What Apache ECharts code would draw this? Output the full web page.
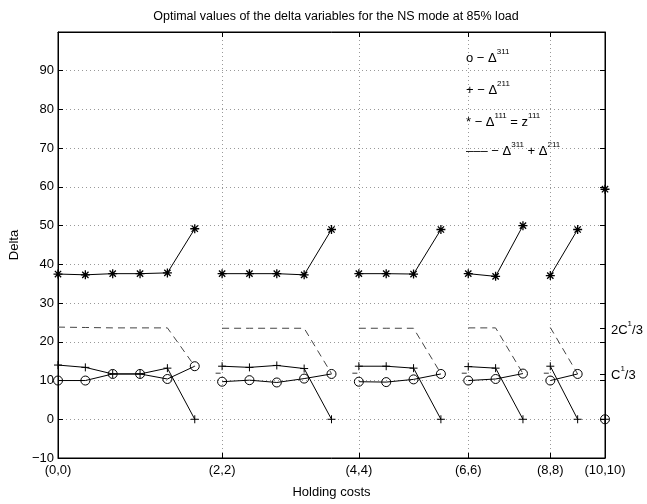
<!DOCTYPE html>
<html>
<head>
<meta charset="utf-8">
<script src="https://cdn.jsdelivr.net/npm/echarts@6/dist/echarts.min.js"></script>
<style>
  html, body { margin: 0; padding: 0; background: #fff; }
  #chart { width: 647px; height: 504px; }
</style>
</head>
<body>
<div id="chart"></div>
<script>
// holding cost pairs (h1,h2), one per point
const costs = [
  '(0,0)', '(0,2)', '(0,4)', '(0,6)', '(0,8)', '(0,10)',
  '(2,2)', '(2,4)', '(2,6)', '(2,8)', '(2,10)',
  '(4,4)', '(4,6)', '(4,8)', '(4,10)',
  '(6,6)', '(6,8)', '(6,10)',
  '(8,8)', '(8,10)',
  '(10,10)'
];
const delta311 = [10.0, 10.0, 11.7, 11.7, 10.4, 13.7, 9.7, 10.1, 9.5, 10.5, 11.7, 9.7, 9.6, 10.3, 11.7, 10.0, 10.4, 11.8, 10.0, 11.7, 0];
const delta211 = [14.0, 13.4, 11.7, 11.7, 13.2, 0, 13.7, 13.4, 13.9, 13.1, 0, 13.7, 13.7, 13.2, 0, 13.6, 13.2, 0, 13.7, 0, 0];
const delta111 = [37.5, 37.3, 37.6, 37.6, 37.8, 49.2, 37.6, 37.6, 37.6, 37.3, 49.0, 37.6, 37.6, 37.5, 49.0, 37.6, 36.9, 50.0, 37.1, 49.0, 59.4];
const deltaSum = [23.8, 23.7, 23.6, 23.6, 23.6, 13.7, 23.5, 23.5, 23.5, 23.5, 11.8, 23.5, 23.5, 23.5, 11.8, 23.6, 23.6, 11.8, 23.7, 11.7, null];
const startMarks = [null, null, null, null, null, null, 11.9, null, null, null, null, 11.9, null, null, null, 11.9, null, null, 11.9, null, null];
const rightTicks = [23.5, 11.75];
const rightLabels = ['{n|2C}{s|1}{n|/3}', '{n|C}{s|1}{n|/3}'];

const FONT = 'Liberation Sans, Arial, Helvetica, sans-serif';
const FS = 13;

// group = first holding cost of the pair
const groupOf = costs.map(c => c.slice(1).split(',')[0]);
const groups = [...new Set(groupOf)];
const last = costs.length - 1;
const isStart = idx => idx === 0 || groupOf[idx] !== groupOf[idx - 1];
const innerStart = idx => idx > 0 && idx < last && isStart(idx);

const plusPath = 'path://M5,0L5,10M0,5L10,5';
const starPath = 'path://M5,0L5,10M0,5L10,5M1.5,1.5L8.5,8.5M1.5,8.5L8.5,1.5';

function groupSeries(values, extra) {
  return groups.map(g => Object.assign({
    type: 'line',
    data: values.map((v, i) => (groupOf[i] === g ? v : null)),
    connectNulls: false,
    showAllSymbol: true,
    silent: true,
    z: 3
  }, extra));
}

const markerLine = { color: '#000', width: 1 };

const series = [].concat(
  groupSeries(deltaSum, {
    symbol: 'none',
    lineStyle: { color: '#444', width: 1, type: [7, 5] },
    z: 2
  }),
  groupSeries(delta211, {
    symbol: plusPath, symbolSize: 8,
    itemStyle: { color: 'none', borderColor: '#000', borderWidth: 1 },
    lineStyle: markerLine
  }),
  groupSeries(delta111, {
    symbol: starPath, symbolSize: 9,
    itemStyle: { color: 'none', borderColor: '#000', borderWidth: 1.3 },
    lineStyle: markerLine
  }),
  groupSeries(delta311, {
    symbol: 'circle', symbolSize: 9,
    itemStyle: { color: 'rgba(0,0,0,0)', borderColor: '#000', borderWidth: 1 },
    lineStyle: markerLine
  }),
  [{
    type: 'scatter',
    data: startMarks,
    symbol: 'rect',
    symbolSize: [5, 1],
    symbolOffset: [-4, 0],
    itemStyle: { color: '#000' },
    silent: true
  }]
);

const chart = echarts.init(document.getElementById('chart'), null, { renderer: 'canvas' });

const supRich = {
  n: { fontSize: FS, fontFamily: FONT, color: '#000', lineHeight: 17, verticalAlign: 'bottom' },
  s: { fontSize: 8, fontFamily: FONT, color: '#000', lineHeight: 9, verticalAlign: 'top' }
};

const legendText = (top, text) => ({
  type: 'text', left: 466, top: top,
  style: { text: text, rich: supRich }
});

chart.setOption({
  animation: false,
  backgroundColor: '#fff',
  textStyle: { fontFamily: FONT },
  title: {
    text: 'Optimal values of the delta variables for the NS mode at 85% load',
    left: 331, top: 5, textAlign: 'center',
    textStyle: { fontSize: 12.5, fontWeight: 'normal', color: '#000', fontFamily: FONT }
  },
  grid: { left: 58, right: 42, top: 32, bottom: 42, show: true, borderColor: '#000', borderWidth: 1, backgroundColor: 'transparent' },
  xAxis: [{
    type: 'category',
    data: costs,
    boundaryGap: false,
    position: 'bottom',
    name: 'Holding costs',
    nameLocation: 'middle',
    nameGap: 28,
    nameTextStyle: { fontSize: FS, color: '#000', fontFamily: FONT },
    axisLine: { show: true, onZero: false, lineStyle: { color: '#000', width: 1 } },
    axisTick: { show: true, inside: true, length: 5, interval: isStart, lineStyle: { color: '#000' } },
    axisLabel: { interval: isStart, margin: 6, fontSize: FS, color: '#000', fontFamily: FONT },
    splitLine: { show: true, interval: innerStart, lineStyle: { color: '#999', type: [1, 3], width: 1 } }
  }, {
    type: 'category',
    data: costs,
    boundaryGap: false,
    position: 'top',
    axisLine: { show: true, onZero: false, lineStyle: { color: '#000', width: 1 } },
    axisTick: { show: true, inside: true, length: 5, interval: isStart, lineStyle: { color: '#000' } },
    axisLabel: { show: false },
    splitLine: { show: false }
  }],
  yAxis: [{
    type: 'value',
    min: -10, max: 100, interval: 10,
    position: 'left',
    name: 'Delta',
    nameLocation: 'middle',
    nameGap: 37,
    nameTextStyle: { fontSize: FS, color: '#000', fontFamily: FONT },
    axisLine: { show: true, onZero: false, lineStyle: { color: '#000', width: 1 } },
    axisTick: { show: true, inside: true, length: 5, lineStyle: { color: '#000' } },
    axisLabel: {
      margin: 4, fontSize: FS, color: '#000', fontFamily: FONT,
      formatter: v => (v === 100 ? '' : v < 0 ? '\u2212' + (-v) : String(v))
    },
    splitLine: { show: true, showMinLine: false, showMaxLine: false, lineStyle: { color: '#999', type: [1, 3], width: 1 } }
  }, {
    type: 'value',
    min: -10, max: 100,
    position: 'right',
    axisLine: { show: true, onZero: false, lineStyle: { color: '#000', width: 1 } },
    axisTick: {
      show: true, inside: true, length: 5, lineStyle: { color: '#000' },
      customValues: [-10, 0, 10, 20, 30, 40, 50, 60, 70, 80, 90].concat(rightTicks)
    },
    axisLabel: {
      margin: 6, fontSize: FS, color: '#000', fontFamily: FONT,
      customValues: rightTicks,
      formatter: v => rightLabels[rightTicks.indexOf(v)] || '',
      rich: supRich
    },
    splitLine: { show: false }
  }],
  graphic: [
    legendText(48, '{n|o \u2212 \u0394}{s|311}'),
    legendText(80, '{n|+ \u2212 \u0394}{s|211}'),
    legendText(112, '{n|* \u2212 \u0394}{s|111}{n| = z}{s|111}'),
    legendText(141, '{n|\u2013\u2013\u2013 \u2212 \u0394}{s|311}{n| + \u0394}{s|211}')
  ],
  series: series
});
</script>
</body>
</html>
